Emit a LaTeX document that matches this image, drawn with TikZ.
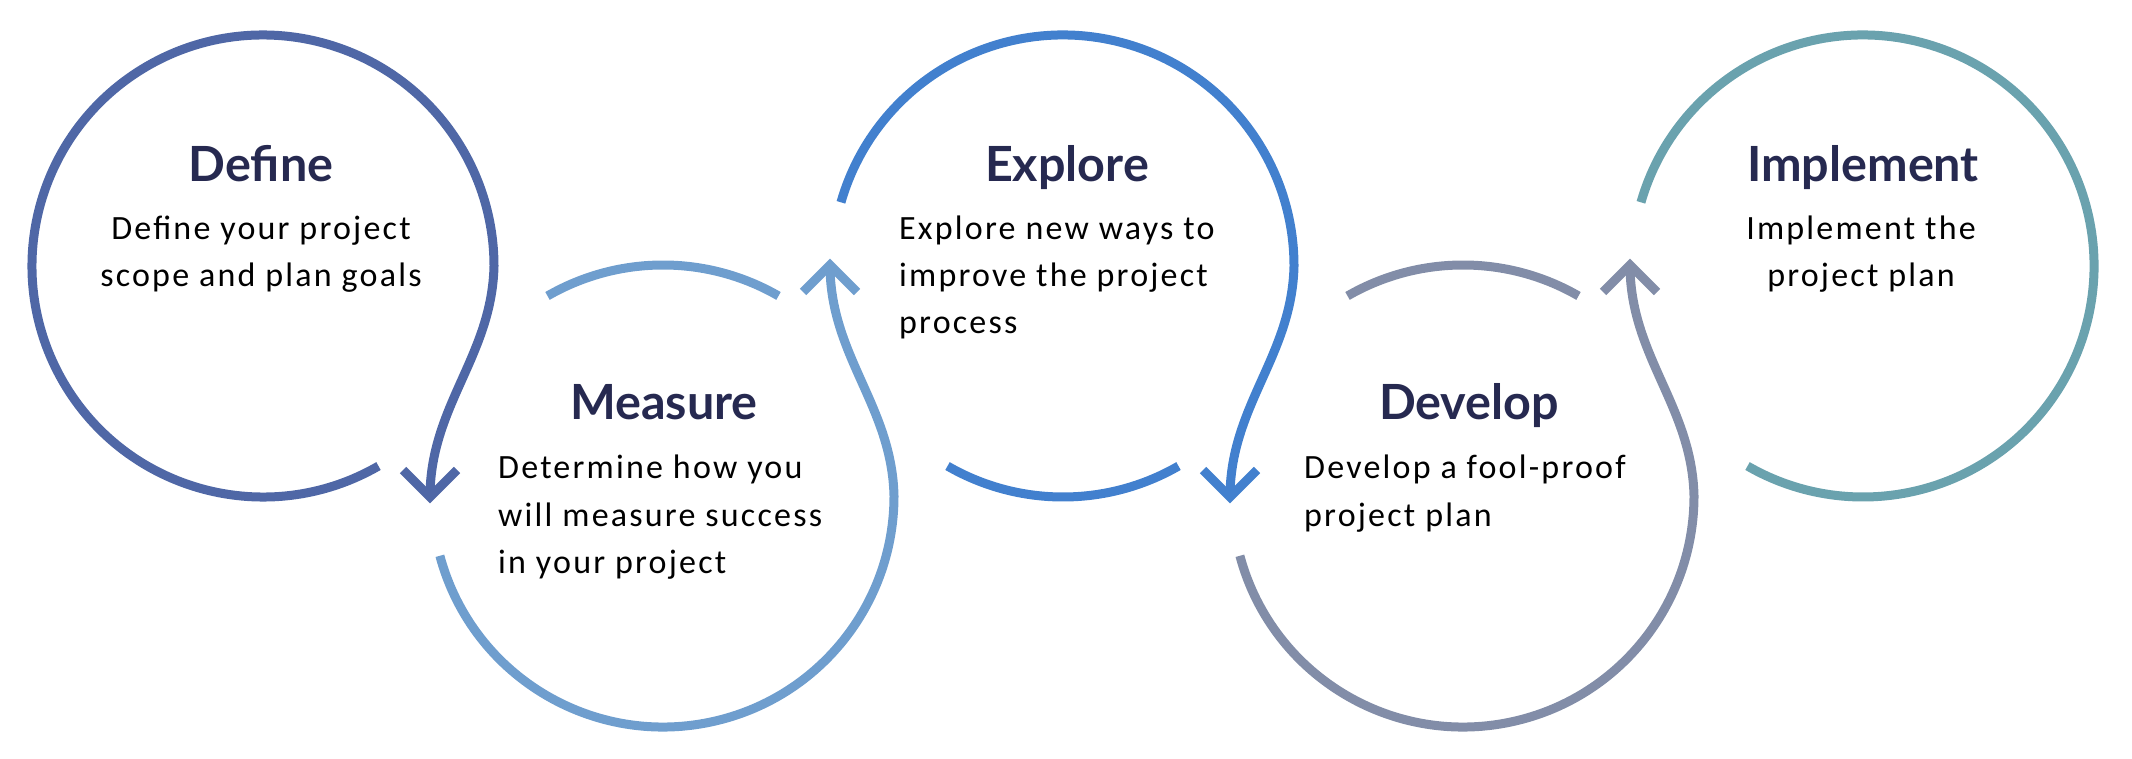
\documentclass[tikz,border=0pt]{standalone}
\usepackage{fontspec}
\setmainfont{Carlito}[LetterSpace=6.5]
\newfontfamily\titlefont{Lato}
\usetikzlibrary{calc}
\definecolor{cDef}{RGB}{79,103,166}
\definecolor{cMea}{RGB}{111,158,206}
\definecolor{cExp}{RGB}{66,128,206}
\definecolor{cDev}{RGB}{130,141,168}
\definecolor{cImp}{RGB}{106,162,174}
\definecolor{titlecol}{RGB}{38,41,80}
\begin{document}
\begin{tikzpicture}[x=1pt,y=1pt,
  ring/.style={line width=9pt},
  head/.style={line width=9pt, line join=miter},
  ttl/.style={anchor=base, inner sep=0pt, text=titlecol, font=\titlefont\bfseries\fontsize{48.5}{58}\selectfont},
  txt/.style={inner sep=0pt, text=black, font=\fontsize{34}{47}\selectfont},
]
\useasboundingbox (0,0) rectangle (2132,758);

% centres
\coordinate (cD) at (263,492);
\coordinate (cM) at (663,262);
\coordinate (cE) at (1063,492);
\coordinate (cV) at (1463,262);
\coordinate (cI) at (1863,492);

% Define
\draw[ring, cDef] ($(cD)+(-60:231)$) arc[start angle=-60, end angle=-360, radius=231]
  .. controls +(-2,-90) and +(0,91) .. ++(-64,-231) coordinate (tD);
\draw[head, cDef] ($(tD)+(-27,27)$) -- (tD) -- ($(tD)+(27,27)$);

% Measure
\draw[ring, cMea] ($(cM)+(60:231)$) arc[start angle=60, end angle=120, radius=231];
\draw[ring, cMea] ($(cM)+(195:231)$) arc[start angle=195, end angle=360, radius=231]
  .. controls +(-2,90) and +(0,-91) .. ++(-64,231) coordinate (tM);
\draw[head, cMea] ($(tM)+(-27,-27)$) -- (tM) -- ($(tM)+(27,-27)$);

% Explore
\draw[ring, cExp] ($(cE)+(164:231)$) arc[start angle=164, end angle=0, radius=231]
  .. controls +(-2,-90) and +(0,91) .. ++(-64,-231) coordinate (tE);
\draw[ring, cExp] ($(cE)+(-120:231)$) arc[start angle=-120, end angle=-60, radius=231];
\draw[head, cExp] ($(tE)+(-27,27)$) -- (tE) -- ($(tE)+(27,27)$);

% Develop
\draw[ring, cDev] ($(cV)+(60:231)$) arc[start angle=60, end angle=120, radius=231];
\draw[ring, cDev] ($(cV)+(195:231)$) arc[start angle=195, end angle=360, radius=231]
  .. controls +(-2,90) and +(0,-91) .. ++(-64,231) coordinate (tV);
\draw[head, cDev] ($(tV)+(-27,-27)$) -- (tV) -- ($(tV)+(27,-27)$);

% Implement
\draw[ring, cImp] ($(cI)+(164:231)$) arc[start angle=164, end angle=-120, radius=231];

% Texts
\node[ttl] (tDef) at (261,576) {Define};
\node[txt, anchor=base] (bDef1) at (261,518) {Define your project};
\node[txt, anchor=base] (bDef2) at (261,471) {scope and plan goals};

\node[ttl] (tMea) at (664,338) {Measure};
\node[txt, anchor=base west] (bMea1) at (498,279) {Determine how you};
\node[txt, anchor=base west] (bMea2) at (498,232) {will measure success};
\node[txt, anchor=base west] (bMea3) at (498,185) {in your project};

\node[ttl] (tExp) at (1067,576) {Explore};
\node[txt, anchor=base west] (bExp1) at (899,518) {Explore new ways to};
\node[txt, anchor=base west] (bExp2) at (899,471) {improve the project};
\node[txt, anchor=base west] (bExp3) at (899,424) {process};

\node[ttl] (tDev) at (1469,338) {Develop};
\node[txt, anchor=base west] (bDev1) at (1304,279) {Develop a fool-proof};
\node[txt, anchor=base west] (bDev2) at (1304,232) {project plan};

\node[ttl] (tImp) at (1863,576) {Implement};
\node[txt, anchor=base] (bImp1) at (1861,518) {Implement the};
\node[txt, anchor=base] (bImp2) at (1861,471) {project plan};
\end{tikzpicture}
\end{document}
